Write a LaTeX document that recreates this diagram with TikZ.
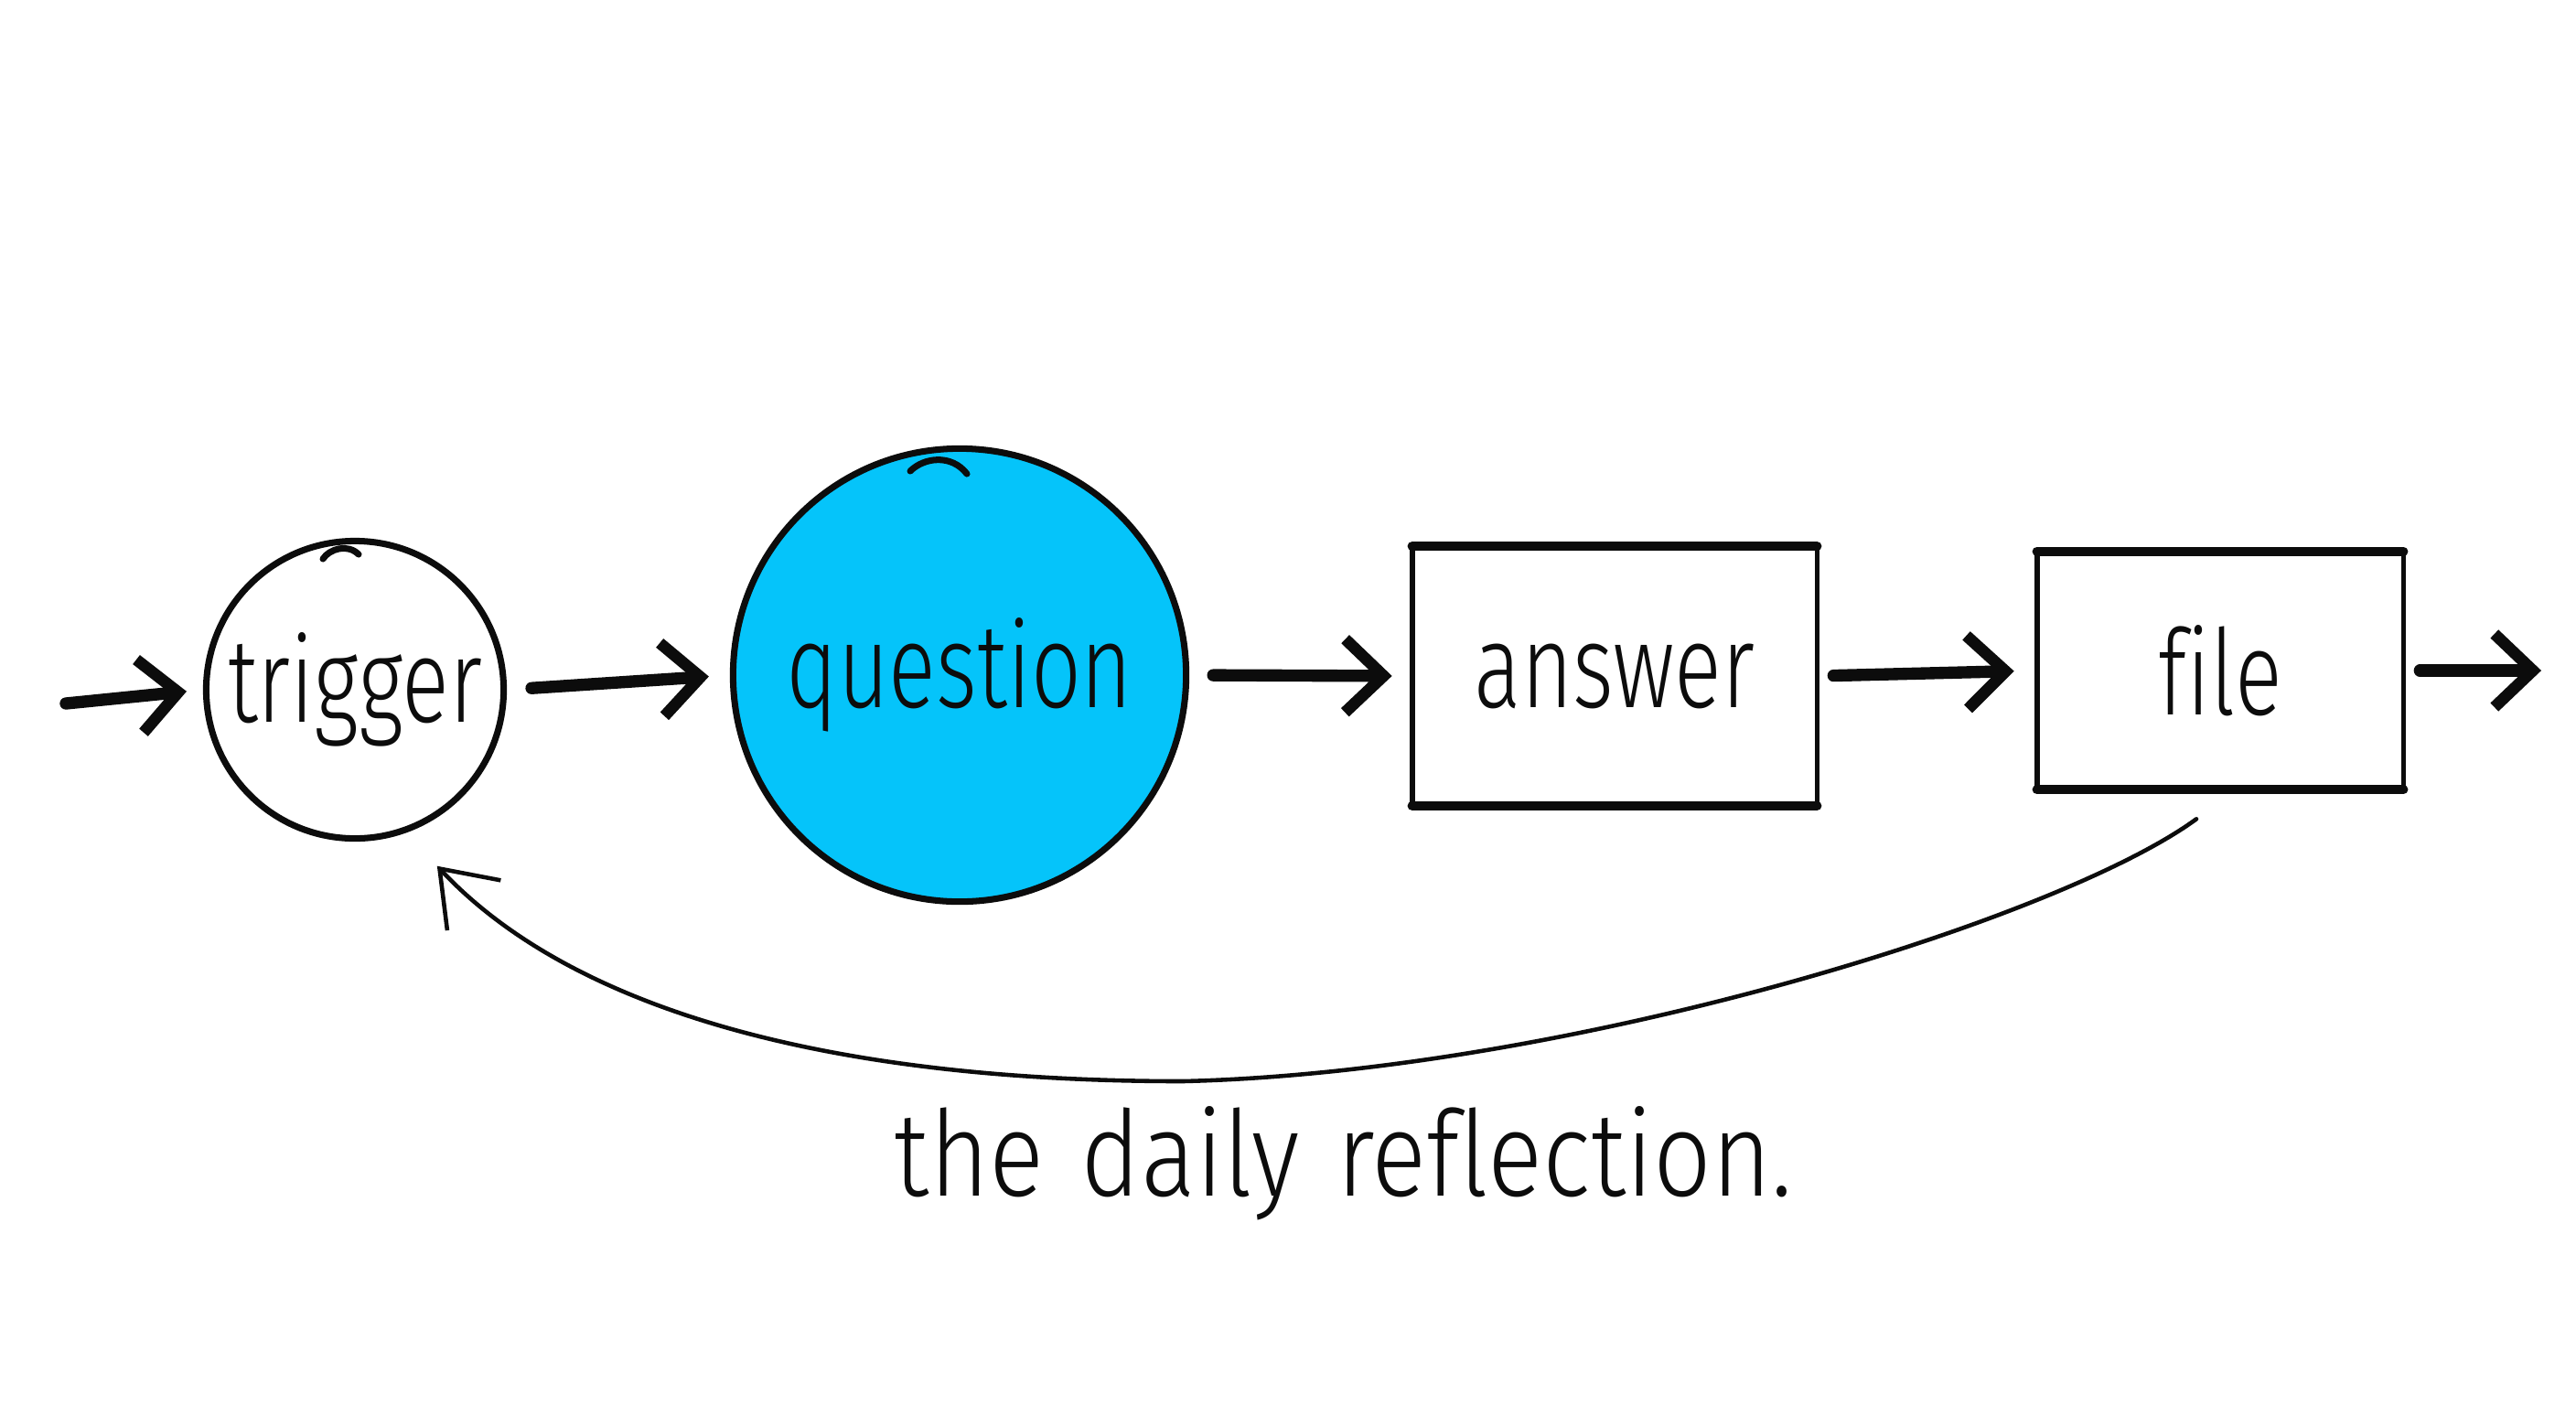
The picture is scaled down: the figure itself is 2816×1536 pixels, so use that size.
\documentclass[tikz,border=0pt]{standalone}
\usepackage{fontspec}
\setmainfont{Fira Sans Light}[FakeStretch=0.74,Ligatures=NoCommon]
\newfontfamily\capfont{Fira Sans Light}[FakeStretch=0.86,Ligatures=NoCommon,WordSpace=1.3]
\usetikzlibrary{arrows.meta,calc}
\definecolor{qblue}{RGB}{5,196,250}
\definecolor{ink}{RGB}{12,12,12}
\begin{document}
\begin{tikzpicture}[x=0.01cm,y=-0.01cm,
  inkline/.style={draw=ink, line width=2pt, line cap=round, line join=round},
  handfont/.style={font=\fontsize{37}{40}\selectfont, text=ink},
  roundnode/.style={circle, inkline, inner sep=0pt, handfont},
  boxnode/.style={rectangle, draw=none, inner sep=0pt, handfont},
  thickedge/.style={draw=ink, line width=2.9pt, line cap=round},
  thinedge/.style={draw=ink, line width=1.6pt, line cap=round},
  flowarrow/.style={draw=ink, line width=3.8pt, line cap=round,
    -{Straight Barb[length=0.42cm,width=0.8cm,line width=3.6pt]}},
  backarrow/.style={draw=ink, line width=1.3pt, line cap=round,
    -{Straight Barb[length=0.55cm,width=0.8cm,line width=1.3pt]}}]
\useasboundingbox[fill=white] (0,0) rectangle (2816,1536);

% nodes
\node[roundnode, minimum size=3.25cm] (trigger) at (388,754) {trigger};
\node[roundnode, fill=qblue, minimum size=4.95cm] (question) at (1049,738) {question};
\node[boxnode, minimum width=4.41cm, minimum height=2.82cm] (answer) at (1765,739) {answer};
\node[boxnode, minimum width=3.99cm, minimum height=2.59cm] (file) at (2427,733) {file};

% small pen hooks on the circles
\draw[inkline] (353,611) .. controls (360,600) and (380,594) .. (392,606);
\draw[inkline] (995,515) .. controls (1010,500) and (1040,496) .. (1057,518);

% box edges
\foreach \b in {answer,file}{
  \draw[thickedge] (\b.north west) -- (\b.north east);
  \draw[thickedge] (\b.south west) -- (\b.south east);
  \draw[thinedge] (\b.north west) -- (\b.south west);
  \draw[thinedge] (\b.north east) -- (\b.south east);
}

% free ends
\coordinate (in) at (72,769);
\coordinate (out) at (2778,733);
\coordinate (lowpt) at (1293,1182);

% flow arrows
\draw[flowarrow, shorten >=0.18cm] (in) -- (trigger.west);
\draw[flowarrow, shorten <=0.27cm, shorten >=0.23cm] (trigger.east) -- (question.west);
\draw[flowarrow, shorten <=0.26cm, shorten >=0.22cm] (question.east) -- (answer.west);
\draw[flowarrow, shorten <=0.18cm, shorten >=0.25cm] (answer.east) -- (file.west);
\draw[flowarrow, shorten <=0.18cm] (file.east) -- (out);

% feedback loop
\draw[backarrow]
  ($(file.south)+(-26,32)$) .. controls +(-150,110) and +(420,-10) .. (lowpt)
  .. controls +(-380,0) and +(150,160) .. ($(trigger.center)!1.28!(trigger.-65)$);

% caption
\node[font=\capfont\fontsize{37}{40}\selectfont, text=ink, anchor=base] (caption) at (1469,1307) {the daily reflection.};
\end{tikzpicture}
\end{document}
